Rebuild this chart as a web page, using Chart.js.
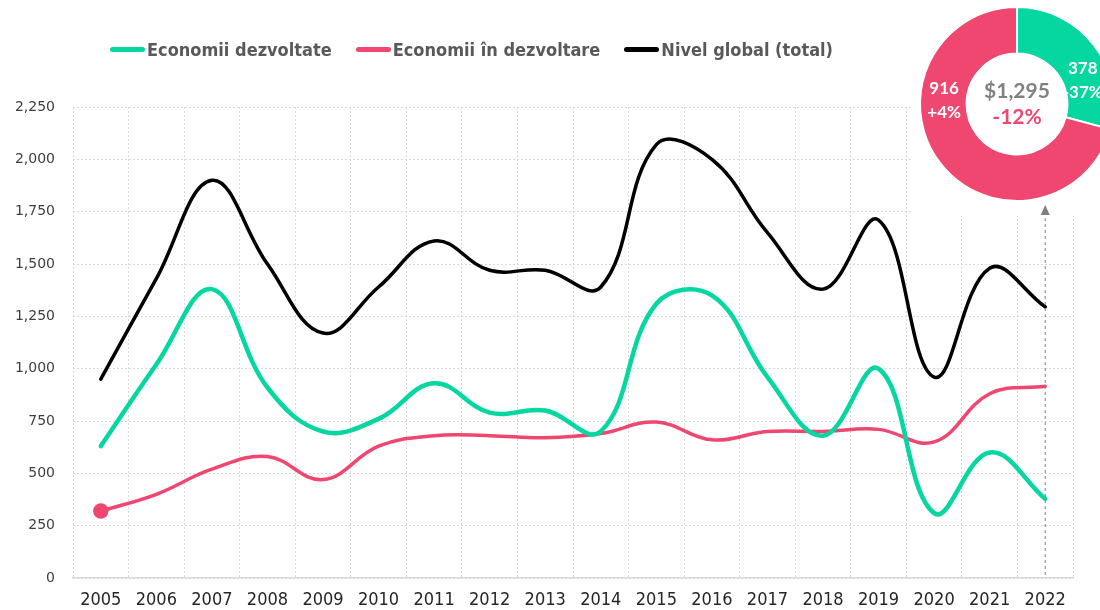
<!DOCTYPE html>
<html lang="ro">
<head>
<meta charset="UTF-8">
<title>Economii dezvoltate vs. în dezvoltare</title>
<script src="https://cdn.jsdelivr.net/npm/chart.js"></script>
<style>
    html, body { margin: 0; padding: 0; background: #fff; overflow: hidden; }
    #wrap { position: relative; width: 1100px; height: 610px; }
    #lineChart { position: absolute; left: 0; top: 0; }
    #donutBox { position: absolute; left: 913px; top: 0; width: 208px; height: 208px; }
    #legend {
        position: absolute; left: 110px; top: 39px;
        display: flex; align-items: center;
        font-family: 'Liberation Sans Narrow', 'DejaVu Sans Condensed', sans-serif;
        font-weight: bold; font-size: 18px; color: #595959;
    }
    #legend .item { display: flex; align-items: center; margin-right: 24px; }
    #legend .sw { width: 35px; height: 5px; border-radius: 3px; margin-right: 2px; }
</style>
</head>
<body>
<div id="wrap">
    <canvas id="lineChart" width="1100" height="610"></canvas>
    <div id="legend"></div>
    <div id="donutBox"><canvas id="donutChart" width="208" height="208"></canvas></div>
</div>

<script>
// date
const ani = ['2005', '2006', '2007', '2008', '2009', '2010', '2011', '2012', '2013',
             '2014', '2015', '2016', '2017', '2018', '2019', '2020', '2021', '2022'];
const dezvoltate   = [630, 1020, 1380, 910, 700, 760, 930, 790, 800, 700, 1310, 1350, 960, 680, 1000, 310, 600, 378];
const inDezvoltare = [320, 400, 520, 580, 470, 630, 680, 680, 670, 690, 745, 660, 700, 700, 710, 650, 880, 916];
const global       = [950, 1430, 1900, 1500, 1170, 1390, 1610, 1470, 1470, 1390, 2070, 2000, 1650, 1380, 1710, 960, 1480, 1295];
const yTicks = [0, 250, 500, 750, 1000, 1250, 1500, 1750, 2000, 2250];

const serii = ['Economii dezvoltate', 'Economii în dezvoltare', 'Nivel global (total)'];
const culori = ['#06D6A0', '#EF476F', '#000000'];

// inelul din dreapta sus (anul 2022)
const inelEtichete = ['Economii dezvoltate', 'Economii în dezvoltare'];
const inelValori = [378, 916];
const inelVariatii = ['-37%', '+4%'];
const totalText = '$1,295';
const totalVariatie = '-12%';

// legenda html
const legend = document.getElementById('legend');
serii.forEach((nume, i) => {
    const it = document.createElement('div');
    it.className = 'item';
    it.innerHTML = '<span class="sw" style="background:' + culori[i] + '"></span><span>' + nume + '</span>';
    legend.appendChild(it);
});

const fundalSiSageata = {
    id: 'fundalSiSageata',
    beforeDatasetsDraw(chart) {
        // zona alba din spatele inelului
        const c = chart.ctx;
        c.save();
        c.fillStyle = '#fff';
        c.fillRect(913, 0, 200, 216);
        c.restore();
    },
    afterDatasetsDraw(chart) {
        const c = chart.ctx;
        const x = chart.scales.x.getPixelForValue(ani.length - 1);
        const jos = chart.chartArea.bottom - 3;
        const sus = 205;
        c.save();
        c.strokeStyle = '#7f7f7f';
        c.lineWidth = 1;
        c.setLineDash([3, 3]);
        c.beginPath();
        c.moveTo(x, jos);
        c.lineTo(x, sus + 9);
        c.stroke();
        c.setLineDash([]);
        c.fillStyle = '#7f7f7f';
        c.beginPath();
        c.moveTo(x, sus);
        c.lineTo(x - 4.5, sus + 10);
        c.lineTo(x + 4.5, sus + 10);
        c.closePath();
        c.fill();
        c.restore();
    }
};

const gridStyle = { color: '#d9d9d9', lineWidth: 1, drawTicks: false };

new Chart(document.getElementById('lineChart'), {
    type: 'line',
    data: {
        labels: ani,
        datasets: [
            {
                label: serii[0], data: dezvoltate, borderColor: culori[0], backgroundColor: culori[0],
                borderWidth: 4.5, tension: 0.4, pointRadius: 0, borderCapStyle: 'round'
            },
            {
                label: serii[1], data: inDezvoltare, borderColor: culori[1], backgroundColor: culori[1],
                borderWidth: 3.5, tension: 0.4, borderCapStyle: 'round',
                pointRadius: ctx => ctx.dataIndex === 0 ? 6 : 0
            },
            {
                label: serii[2], data: global, borderColor: culori[2], backgroundColor: culori[2],
                borderWidth: 3.5, tension: 0.4, pointRadius: 0, borderCapStyle: 'round'
            }
        ]
    },
    options: {
        responsive: false,
        animation: false,
        layout: { padding: { top: 107, right: 27, left: 0, bottom: 0 } },
        plugins: { legend: { display: false }, tooltip: { enabled: false } },
        scales: {
            x: {
                offset: true,
                grid: { ...gridStyle, offset: true },
                border: { display: true, color: '#d9d9d9', width: 1.5, dash: [2, 2] },
                ticks: {
                    color: '#262626', padding: 12, maxRotation: 0, autoSkip: false,
                    font: { family: "'Liberation Sans Narrow', 'DejaVu Sans Condensed', sans-serif", size: 18 }
                },
                afterFit: s => { s.height = 32; }
            },
            y: {
                min: 0, max: 2250,
                afterBuildTicks: s => { s.ticks = yTicks.map(v => ({ value: v })); },
                grid: gridStyle,
                border: { display: false, dash: [2, 2] },
                ticks: {
                    color: '#404040', padding: 18,
                    font: { family: "'DejaVu Sans', sans-serif", size: 14 },
                    callback: v => v.toLocaleString('en-US')
                },
                afterFit: s => { s.width = 73; }
            }
        },
        elements: { line: { borderJoinStyle: 'round' } }
    },
    plugins: [fundalSiSageata]
});

const textInel = {
    id: 'textInel',
    afterDraw(chart) {
        const c = chart.ctx;
        const arc = chart.getDatasetMeta(0).data[0];
        const cx = arc.x, cy = arc.y;
        c.save();
        c.textAlign = 'center';
        c.textBaseline = 'middle';
        c.font = "bold 21px Lato, 'Open Sans', sans-serif";
        c.fillStyle = '#808080';
        c.fillText(totalText, cx, cy - 13);
        c.fillStyle = culori[1];
        c.fillText(totalVariatie, cx, cy + 13);
        // etichete pe segmente
        const unghiuri = [70, 273];
        const raze = [70, 73];
        c.font = "bold 17px Lato, 'Open Sans', sans-serif";
        c.fillStyle = '#fff';
        inelValori.forEach((v, i) => {
            const a = unghiuri[i] * Math.PI / 180;
            const px = cx + raze[i] * Math.sin(a);
            const py = cy - raze[i] * Math.cos(a);
            c.fillText(String(v), px, py - 12);
            c.fillText(inelVariatii[i], px, py + 12);
        });
        c.restore();
    }
};

new Chart(document.getElementById('donutChart'), {
    type: 'doughnut',
    data: {
        labels: inelEtichete,
        datasets: [{
            data: inelValori,
            backgroundColor: [culori[0], culori[1]],
            borderColor: '#fff',
            borderWidth: 2
        }]
    },
    options: {
        responsive: false,
        animation: false,
        cutout: '52%',
        layout: { padding: 6 },
        plugins: { legend: { display: false }, tooltip: { enabled: false } }
    },
    plugins: [textInel]
});
</script>
</body>
</html>
